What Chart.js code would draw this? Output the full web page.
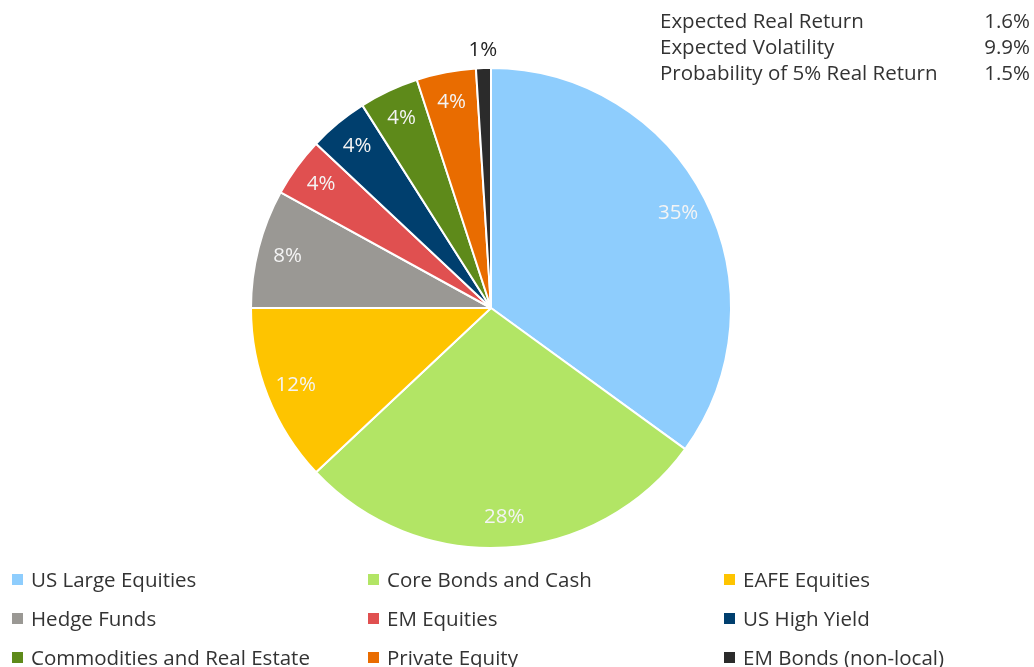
<!DOCTYPE html>
<html>
<head>
<meta charset="utf-8">
<script src="https://cdn.jsdelivr.net/npm/chart.js@4/dist/chart.umd.min.js"></script>
<style>
  html, body { margin: 0; padding: 0; background: #fff; }
  #wrap { position: relative; width: 1034px; height: 667px; overflow: hidden; font-family: "Open Sans", "Noto Sans", sans-serif; color: #333; }
  #pie { position: absolute; left: 0; top: 0; }
  #stats { position: absolute; left: 660px; top: 7px; width: 370px; font-size: 20.5px; line-height: 26px; }
  #stats .row { display: flex; justify-content: space-between; }
  #legend { position: absolute; left: 12px; top: 565px; width: 1030px; font-size: 20.5px; }
  #legend .item { position: absolute; white-space: nowrap; line-height: 28px; }
  #legend .box { display: inline-block; width: 11px; height: 11px; margin-right: 8px; vertical-align: 2px; }
</style>
</head>
<body>
<div id="wrap">
  <canvas id="pie" width="1034" height="667"></canvas>
  <div id="stats"></div>
  <div id="legend"></div>
</div>
<script>
// asset mix
const labels = ['US Large Equities', 'Core Bonds and Cash', 'EAFE Equities', 'Hedge Funds', 'EM Equities',
  'US High Yield', 'Commodities and Real Estate', 'Private Equity', 'EM Bonds (non-local)'];
const weights = [35, 28, 12, 8, 4, 4, 4, 4, 1];
const colors = ['#8ecdfd', '#b2e565', '#fec400', '#9a9894', '#e05050', '#003f6e', '#5e8a1a', '#e96c00', '#2b2b2b'];

const statNames = ['Expected Real Return', 'Expected Volatility', 'Probability of 5% Real Return'];
const statValues = ['1.6%', '9.9%', '1.5%'];

// stats block top right
document.getElementById('stats').innerHTML = statNames
  .map((n, i) => `<div class="row"><span>${n}</span><span>${statValues[i]}</span></div>`).join('');

// legend, 3 columns
const legendEl = document.getElementById('legend');
labels.forEach((l, i) => {
  const el = document.createElement('div');
  el.className = 'item';
  el.style.left = (i % 3) * 356 + 'px';
  el.style.top = Math.floor(i / 3) * 39 + 'px';
  el.innerHTML = `<span class="box" style="background:${colors[i]}"></span>${l}`;
  legendEl.appendChild(el);
});

// percent labels on slices
const sliceLabels = {
  id: 'sliceLabels',
  afterDatasetsDraw(chart) {
    const ctx = chart.ctx;
    const meta = chart.getDatasetMeta(0);
    ctx.save();
    ctx.font = '20.5px "Open Sans", "Noto Sans", sans-serif';
    ctx.textAlign = 'center';
    ctx.textBaseline = 'middle';
    meta.data.forEach((arc, i) => {
      const mid = (arc.startAngle + arc.endAngle) / 2;
      const small = weights[i] < 2;
      const r = arc.outerRadius * (small ? 1.075 : 0.875);
      ctx.fillStyle = small ? '#222' : '#f4f4f4';
      ctx.fillText(weights[i] + '%', arc.x + Math.cos(mid) * r, arc.y + Math.sin(mid) * r);
    });
    ctx.restore();
  }
};

new Chart(document.getElementById('pie'), {
  type: 'pie',
  data: {
    labels,
    datasets: [{
      data: weights,
      backgroundColor: colors,
      borderColor: '#fff',
      borderWidth: 2
    }]
  },
  options: {
    responsive: false,
    animation: false,
    layout: { padding: { left: 250, right: 302, top: 67, bottom: 118 } },
    plugins: { legend: { display: false }, tooltip: { enabled: false } }
  },
  plugins: [sliceLabels]
});
</script>
</body>
</html>
